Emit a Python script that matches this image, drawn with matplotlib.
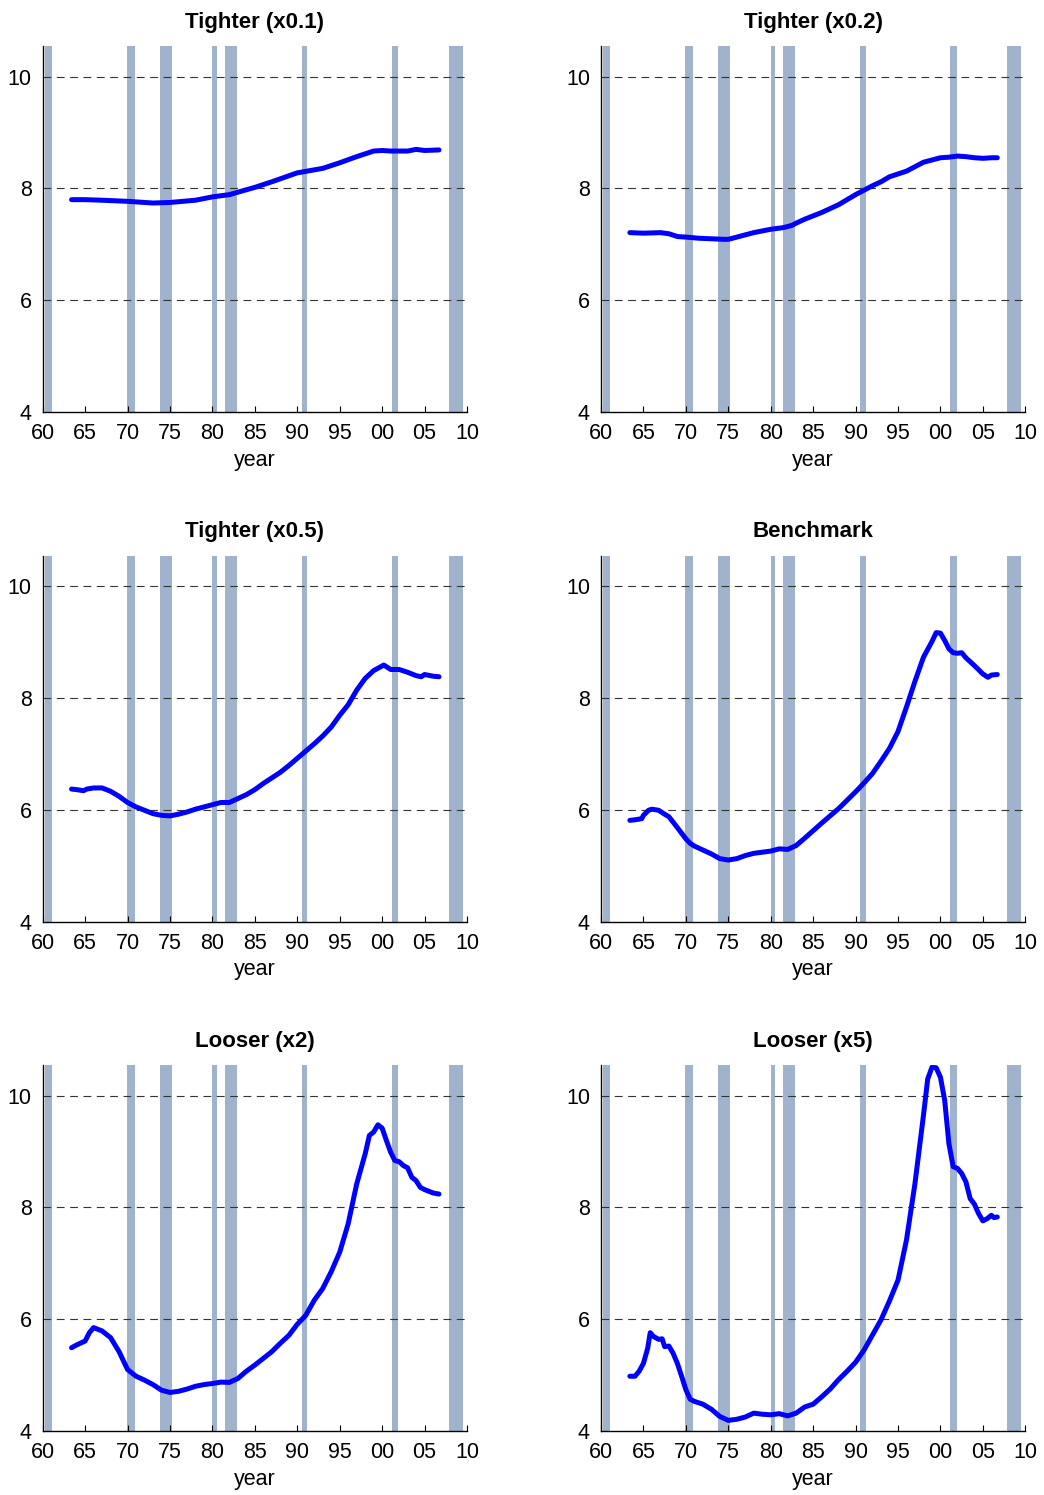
import matplotlib
matplotlib.use("Agg")
import matplotlib.pyplot as plt

plt.rcParams["font.family"] = ["Liberation Sans", "DejaVu Sans"]

# NBER recession dates (decimal years)
RECESSIONS = [(1960.25, 1961.1), (1969.9, 1970.85), (1973.8, 1975.2),
              (1980.0, 1980.55), (1981.5, 1982.9), (1990.5, 1991.2),
              (2001.15, 2001.9), (2007.9, 2009.5)]

XTICKS = [1960, 1965, 1970, 1975, 1980, 1985, 1990, 1995, 2000, 2005, 2010]
XTICKLABELS = ["60", "65", "70", "75", "80", "85", "90", "95", "00", "05", "10"]
YTICKS = [4, 6, 8, 10]

# Tighter (x0.1)
yr_t01 = [1963.4, 1965, 1967, 1970, 1973, 1975, 1978, 1980, 1982, 1985, 1987,
          1990, 1993, 1995, 1997, 1999, 2000, 2001, 2002, 2003, 2004, 2005, 2006.7]
val_t01 = [7.80, 7.80, 7.79, 7.77, 7.74, 7.75, 7.79, 7.85, 7.89, 8.02, 8.12,
           8.28, 8.36, 8.46, 8.57, 8.67, 8.68, 8.67, 8.67, 8.67, 8.70, 8.68, 8.69]

# Tighter (x0.2)
yr_t02 = [1963.4, 1965, 1967, 1968, 1969, 1970, 1971.5, 1973, 1974.5, 1975, 1976,
          1977, 1978, 1979, 1980, 1981.5, 1982.5, 1983, 1984, 1985, 1986, 1987,
          1988, 1989, 1990, 1991, 1992, 1993, 1994, 1995, 1996, 1997, 1998, 1999,
          2000, 2001, 2002, 2003, 2004, 2005, 2006, 2006.7]
val_t02 = [7.21, 7.20, 7.21, 7.19, 7.14, 7.13, 7.11, 7.10, 7.09, 7.09, 7.13,
           7.17, 7.21, 7.24, 7.27, 7.30, 7.34, 7.38, 7.45, 7.51, 7.57, 7.64,
           7.71, 7.80, 7.89, 7.97, 8.05, 8.12, 8.21, 8.26, 8.31, 8.39, 8.47, 8.51,
           8.55, 8.56, 8.58, 8.57, 8.55, 8.54, 8.55, 8.55]

# Tighter (x0.5)
yr_t05 = [1963.4, 1964, 1964.8, 1965.2, 1966, 1967, 1968, 1969, 1970, 1971, 1972,
          1973, 1974, 1975, 1976, 1977, 1978, 1979, 1980, 1981, 1982, 1983, 1984,
          1985, 1986, 1987, 1988, 1989, 1990, 1991, 1992, 1993, 1994, 1995, 1996,
          1997, 1998, 1999, 2000.2, 2001, 2002, 2003, 2004, 2004.6, 2005, 2006, 2006.7]
val_t05 = [6.37, 6.36, 6.34, 6.37, 6.39, 6.39, 6.33, 6.24, 6.13, 6.05, 5.99,
           5.93, 5.90, 5.89, 5.92, 5.96, 6.01, 6.05, 6.09, 6.13, 6.13, 6.20, 6.27,
           6.36, 6.47, 6.57, 6.67, 6.79, 6.92, 7.05, 7.18, 7.32, 7.48, 7.69, 7.88,
           8.14, 8.35, 8.49, 8.59, 8.51, 8.51, 8.46, 8.40, 8.38, 8.42, 8.39, 8.38]

# Benchmark
yr_bm = [1963.4, 1964, 1964.8, 1965, 1965.6, 1966, 1966.8, 1967.5, 1968, 1969,
         1970, 1970.5, 1971, 1972, 1973, 1974, 1975, 1976, 1977, 1978, 1979, 1980,
         1981, 1982, 1983, 1984, 1985, 1986, 1987, 1988, 1989, 1990, 1991, 1992,
         1993, 1994, 1995, 1996, 1997, 1998, 1999, 1999.5, 2000, 2000.5, 2001,
         2001.5, 2002, 2002.5, 2003, 2004, 2005, 2005.6, 2006, 2006.7]
val_bm = [5.81, 5.82, 5.84, 5.90, 5.99, 6.01, 5.99, 5.92, 5.875, 5.68,
          5.48, 5.40, 5.35, 5.28, 5.21, 5.125, 5.10, 5.125, 5.18, 5.22, 5.24, 5.26,
          5.30, 5.29, 5.36, 5.49, 5.625, 5.76, 5.89, 6.02, 6.17, 6.32, 6.48, 6.65,
          6.87, 7.10, 7.40, 7.84, 8.30, 8.73, 9.01, 9.17, 9.16, 9.03, 8.88,
          8.81, 8.80, 8.81, 8.72, 8.58, 8.43, 8.37, 8.41, 8.42]

# Looser (x2)
yr_l2 = [1963.4, 1964, 1965, 1965.5, 1966, 1967, 1968, 1969, 1970, 1971, 1972,
         1973, 1974, 1975, 1976, 1977, 1978, 1979, 1980, 1981, 1982, 1983, 1984,
         1985, 1986, 1987, 1988, 1989, 1990, 1991, 1992, 1993, 1994, 1995, 1996,
         1997, 1998, 1998.5, 1999, 1999.5, 2000, 2000.5, 2001, 2001.5, 2002,
         2002.5, 2003, 2003.5, 2004, 2004.5, 2005, 2006, 2006.7]
val_l2 = [5.49, 5.54, 5.61, 5.76, 5.85, 5.79, 5.67, 5.42, 5.10, 4.98, 4.91,
          4.83, 4.73, 4.69, 4.71, 4.75, 4.80, 4.83, 4.85, 4.875, 4.87, 4.94, 5.07,
          5.18, 5.30, 5.42, 5.57, 5.71, 5.91, 6.07, 6.34, 6.55, 6.85, 7.20, 7.71,
          8.42, 8.96, 9.29, 9.35, 9.48, 9.42, 9.20, 8.99, 8.84, 8.82,
          8.75, 8.71, 8.54, 8.48, 8.36, 8.32, 8.26, 8.24]

# Looser (x5)
yr_l5 = [1963.4, 1964, 1964.5, 1965, 1965.5, 1965.8, 1966.2, 1966.8, 1967.2,
         1967.5, 1968, 1968.5, 1969, 1969.5, 1970, 1970.5, 1971, 1972, 1973, 1974,
         1975, 1976, 1977, 1978, 1979, 1980, 1981, 1982, 1983, 1984, 1985, 1986,
         1987, 1988, 1989, 1990, 1991, 1992, 1993, 1994, 1995, 1996, 1997, 1998,
         1998.5, 1999, 1999.5, 2000, 2000.5, 2001, 2001.5, 2002, 2002.5, 2003,
         2003.5, 2004, 2004.5, 2005, 2005.5, 2006, 2006.3, 2006.7]
val_l5 = [4.98, 4.98, 5.07, 5.21, 5.48, 5.76, 5.69, 5.64, 5.65,
          5.51, 5.52, 5.39, 5.21, 4.98, 4.74, 4.57, 4.53, 4.48, 4.39, 4.26,
          4.19, 4.21, 4.25, 4.32, 4.30, 4.29, 4.31, 4.27, 4.32, 4.43, 4.48, 4.61,
          4.75, 4.92, 5.07, 5.23, 5.45, 5.72, 5.99, 6.33, 6.70, 7.42, 8.43, 9.65,
          10.30, 10.51, 10.50, 10.33, 9.92, 9.14, 8.73, 8.70, 8.61, 8.46,
          8.16, 8.06, 7.89, 7.76, 7.80, 7.86, 7.82, 7.83]

TITLES = ["Tighter (x0.1)", "Tighter (x0.2)", "Tighter (x0.5)",
          "Benchmark", "Looser (x2)", "Looser (x5)"]
SERIES = [(yr_t01, val_t01), (yr_t02, val_t02), (yr_t05, val_t05),
          (yr_bm, val_bm), (yr_l2, val_l2), (yr_l5, val_l5)]

W, H = 1044, 1495
fig = plt.figure(figsize=(W / 100, H / 100), dpi=100)

col_left = [42.7, 601.0]
row_top = [46.0, 555.5, 1065.0]
ax_w, ax_h = 424.3, 366.0

for i, (title, (xs, ys)) in enumerate(zip(TITLES, SERIES)):
    r, c = divmod(i, 2)
    ax = fig.add_axes([col_left[c] / W, 1 - (row_top[r] + ax_h) / H, ax_w / W, ax_h / H])
    for a, b in RECESSIONS:
        ax.axvspan(a, b, color="#9fb4cc", lw=0, zorder=0)
    for g in YTICKS[1:]:
        ax.axhline(g, color="#333333", lw=0.8, ls=(0, (7, 5)), zorder=1)
    ax.plot(xs, ys, color="#0000ff", lw=3.6, solid_joinstyle="round",
            solid_capstyle="round", zorder=3)
    ax.set_xlim(1960, 2010)
    ax.set_ylim(4, 10.55)
    ax.set_xticks(XTICKS)
    ax.set_xticklabels(XTICKLABELS)
    ax.set_yticks(YTICKS)
    ax.tick_params(axis="x", direction="in", length=4, width=0.8, pad=8, labelsize=15.5)
    ax.tick_params(axis="y", length=0, pad=8, labelsize=15.5)
    for s in ("top", "right"):
        ax.spines[s].set_visible(False)
    for s in ("left", "bottom"):
        ax.spines[s].set_linewidth(1.0)
        ax.spines[s].set_zorder(4)
    ax.set_xlabel("year", fontsize=15.5, labelpad=4)
    ax.set_title(title, fontsize=16, fontweight="bold", pad=13)

fig.savefig("out.png", dpi=100)
